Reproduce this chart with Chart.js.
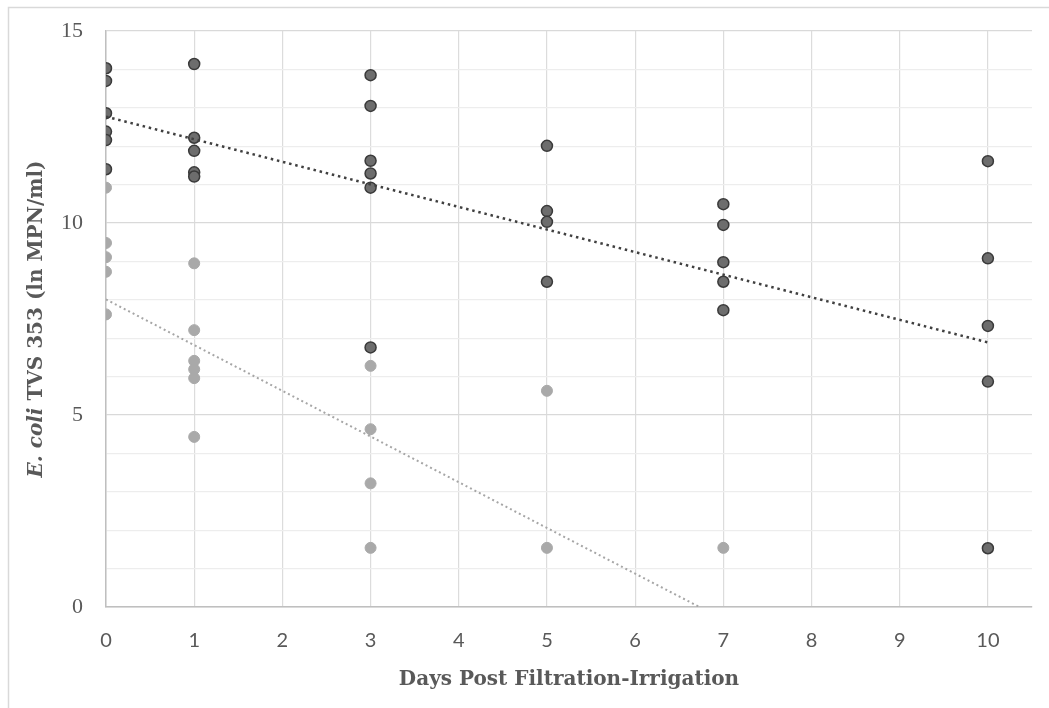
<!DOCTYPE html>
<html>
<head>
<meta charset="utf-8">
<script src="https://cdn.jsdelivr.net/npm/chart.js@4"></script>
<style>
  html, body { margin: 0; padding: 0; background: #fff; }
  #wrap { position: relative; width: 1049px; height: 708px; }
</style>
</head>
<body>
<div id="wrap"><canvas id="chart" width="1049" height="708"></canvas></div>
<script>
// days post irrigation and ln MPN/ml
const darkDays = [0, 0, 0, 0, 0, 0, 1, 1, 1, 1, 1, 3, 3, 3, 3, 3, 3, 5, 5, 5, 5, 7, 7, 7, 7, 7, 10, 10, 10, 10, 10];
const darkVals = [14.03, 13.70, 12.86, 12.38, 12.16, 11.40,
                  14.14, 12.22, 11.88, 11.32, 11.21,
                  13.85, 13.05, 11.62, 11.29, 10.92, 6.76,
                  12.01, 10.31, 10.03, 8.47,
                  10.49, 9.95, 8.98, 8.47, 7.73,
                  11.61, 9.08, 7.32, 5.87, 1.53];

const lightDays = [0, 0, 0, 0, 0, 1, 1, 1, 1, 1, 1, 3, 3, 3, 3, 5, 5, 7];
const lightVals = [10.92, 9.48, 9.11, 8.73, 7.62,
                   8.95, 7.21, 6.41, 6.19, 5.96, 4.43,
                   6.28, 4.63, 3.22, 1.54,
                   5.63, 1.54,
                   1.54];

// trendline end points
const darkTrendDays = [0, 10];
const darkTrendVals = [12.77, 6.89];
const lightTrendDays = [0, 6.73];
const lightTrendVals = [8.01, 0];

const xTicks = [0, 1, 2, 3, 4, 5, 6, 7, 8, 9, 10];
const yTickLabels = [0, 5, 10, 15];

function pts(xs, ys) {
  return xs.map((x, i) => ({ x: x, y: ys[i] }));
}

const txtColor = '#595959';

// frame + rotated y title with italic species name
const extras = {
  id: 'extras',
  beforeDraw(chart) {
    const c = chart.ctx;
    c.save();
    c.strokeStyle = '#d9d9d9';
    c.lineWidth = 1.5;
    c.strokeRect(8.5, 7.5, 1200, 900);
    c.restore();
  },
  afterDraw(chart) {
    const c = chart.ctx;
    const a = chart.chartArea;
    const part1 = 'E. coli';
    const part2 = ' TVS 353 (ln MPN/ml)';
    const f1 = 'italic bold 20px "DejaVu Serif"';
    const f2 = 'bold 20px "DejaVu Serif"';
    c.save();
    c.font = f1;
    const w1 = c.measureText(part1).width;
    c.font = f2;
    const w2 = c.measureText(part2).width;
    c.translate(37, (a.top + a.bottom) / 2);
    c.rotate(-Math.PI / 2);
    c.fillStyle = txtColor;
    c.textBaseline = 'middle';
    c.textAlign = 'left';
    const start = -(w1 + w2) / 2;
    c.font = f1;
    c.fillText(part1, start, 0);
    c.font = f2;
    c.fillText(part2, start + w1, 0);
    c.restore();
  }
};

new Chart(document.getElementById('chart').getContext('2d'), {
  type: 'scatter',
  data: {
    datasets: [
      {
        label: 'light trend',
        data: pts(lightTrendDays, lightTrendVals),
        showLine: true,
        borderColor: '#a6a6a6',
        borderWidth: 2,
        borderDash: [2, 3],
        pointRadius: 0,
        fill: false
      },
      {
        label: 'light',
        data: pts(lightDays, lightVals),
        backgroundColor: '#a9a9a9',
        borderColor: '#a9a9a9',
        borderWidth: 1,
        pointRadius: 5.5
      },
      {
        label: 'dark trend',
        data: pts(darkTrendDays, darkTrendVals),
        showLine: true,
        borderColor: '#404040',
        borderWidth: 2.5,
        borderDash: [2.5, 3.8],
        pointRadius: 0,
        fill: false
      },
      {
        label: 'dark',
        data: pts(darkDays, darkVals),
        backgroundColor: '#6d6d6d',
        borderColor: '#3a3a3a',
        borderWidth: 1.5,
        pointRadius: 5.5
      }
    ]
  },
  options: {
    responsive: false,
    animation: false,
    layout: { padding: { top: 31, right: 17, bottom: 0, left: 0 } },
    plugins: {
      legend: { display: false },
      tooltip: { enabled: false }
    },
    scales: {
      x: {
        type: 'linear',
        min: 0,
        max: 10.5,
        afterBuildTicks: (s) => { s.ticks = xTicks.map(v => ({ value: v })); },
        afterFit: (s) => { s.height = 101; s.paddingLeft = 0; s.paddingRight = 0; },
        ticks: {
          color: txtColor,
          font: { family: 'Lato', size: 20 },
          padding: 22,
          maxRotation: 0
        },
        grid: { color: '#dcdcdc', lineWidth: 1.2, drawTicks: false },
        border: { color: '#bfbfbf', width: 1.5 },
        title: {
          display: true,
          text: 'Days Post Filtration-Irrigation',
          color: txtColor,
          font: { family: 'DejaVu Serif', size: 20, weight: 'bold' },
          padding: { top: 0, bottom: 16 }
        }
      },
      y: {
        min: 0,
        max: 15,
        afterFit: (s) => { s.width = 106; s.paddingTop = 0; s.paddingBottom = 0; },
        ticks: {
          stepSize: 1,
          color: txtColor,
          font: { family: 'Liberation Serif', size: 22 },
          padding: 23,
          callback: (v) => yTickLabels.includes(v) ? String(v) : ''
        },
        grid: {
          color: (ctx) => (ctx.tick && ctx.tick.value % 5 === 0) ? '#d9d9d9' : '#ededed',
          lineWidth: 1.2,
          drawTicks: false
        },
        border: { color: '#bfbfbf', width: 1.5 }
      }
    }
  },
  plugins: [extras]
});
</script>
</body>
</html>
